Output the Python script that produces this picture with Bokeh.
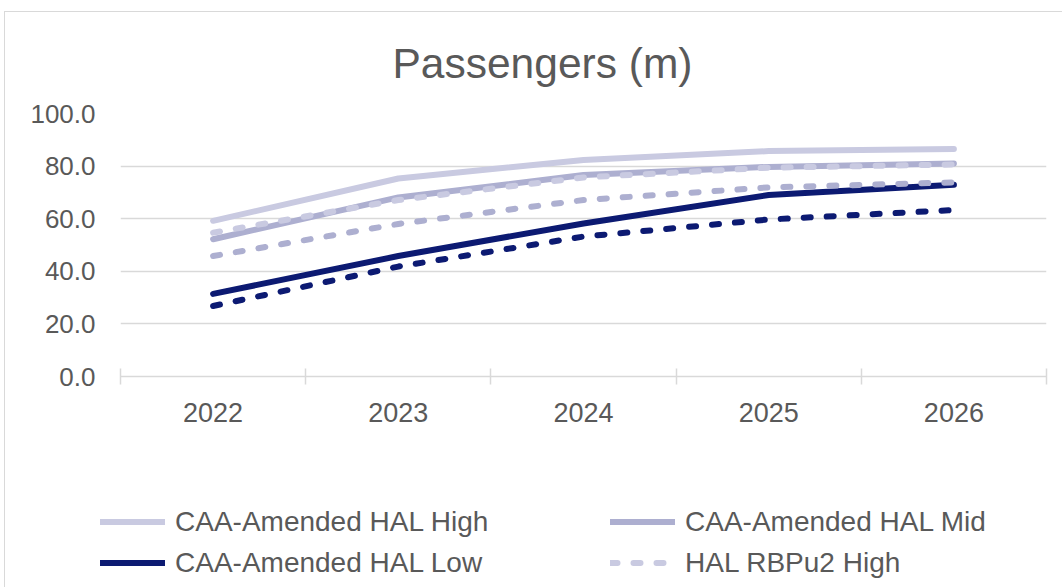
from bokeh.plotting import figure
from bokeh.layouts import column
from bokeh.models import (Range1d, FixedTicker, NumeralTickFormatter, Legend,
                          LegendItem)
from bokeh.embed import file_html
from bokeh.resources import INLINE

# ---- data ----
years = [2022, 2023, 2024, 2025, 2026]
y_ticks = [0, 20, 40, 60, 80, 100]
caa_high = [59.2, 75.3, 82.3, 85.7, 86.5]
caa_mid = [52.2, 68.1, 76.6, 79.7, 81.0]
caa_low = [31.4, 45.8, 58.2, 69.0, 72.9]
rbp_high = [54.7, 67.1, 75.7, 79.4, 80.6]
rbp_mid = [45.8, 58.0, 67.1, 71.9, 73.8]
rbp_low = [26.8, 41.8, 53.2, 59.7, 63.3]
names = ["CAA-Amended HAL High", "CAA-Amended HAL Mid", "CAA-Amended HAL Low",
         "HAL RBPu2 High", "HAL RBPu2 Mid", "HAL RBPu2 Low"]
values = [caa_high, caa_mid, caa_low, rbp_high, rbp_mid, rbp_low]

# ---- styles ----
colors = ["#C9CAE1", "#ADAFD0", "#0C1A72", "#C9CAE1", "#ADAFD0", "#0C1A72"]
dashes = ["solid", "solid", "solid", "7 16", "7 16", "7 16"]
FONT = "Liberation Sans"
TXT = "#595959"
GRID = "#D9D9D9"

p = figure(width=1058, height=428, output_backend="svg", toolbar_location=None,
           x_range=Range1d(years[0] - 0.5, years[-1] + 0.5),
           y_range=Range1d(y_ticks[0], y_ticks[-1]),
           min_border_left=115, min_border_right=17,
           min_border_top=101, min_border_bottom=64)
p.margin = (11, 0, 0, 4)
p.styles = {"border-left": "1px solid #D9D9D9", "border-top": "1px solid #D9D9D9"}
p.outline_line_color = None
p.background_fill_color = "white"
p.border_fill_color = "white"

p.title.text = "Passengers (m)"
p.title.text_font = FONT
p.title.text_font_size = "42.5px"
p.title.text_font_style = "normal"
p.title.text_color = TXT
p.title.align = "left"
p.title.vertical_align = "top"
p.title.offset = 272
p.title.standoff = 50

for vals, c, d in zip(values, colors, dashes):
    p.line(years, vals, line_width=6, line_color=c, line_dash=d,
           line_cap="round", line_join="round")

# axes
xa = p.xaxis[0]
xa.ticker = FixedTicker(ticks=years,
                        minor_ticks=[y - 0.5 for y in years] + [years[-1] + 0.5])
xa.axis_line_color = GRID
xa.axis_line_width = 1.5
xa.major_tick_in = 0
xa.major_tick_out = 0
xa.minor_tick_line_color = GRID
xa.minor_tick_line_width = 1.5
xa.minor_tick_in = 8
xa.minor_tick_out = 8
xa.major_label_text_font = FONT
xa.major_label_text_font_size = "27px"
xa.major_label_text_color = TXT
xa.major_label_standoff = 18

ya = p.yaxis[0]
ya.ticker = FixedTicker(ticks=y_ticks)
ya.formatter = NumeralTickFormatter(format="0.0")
ya.axis_line_color = None
ya.major_tick_line_color = None
ya.minor_tick_line_color = None
ya.major_label_text_font = FONT
ya.major_label_text_font_size = "26px"
ya.major_label_text_color = TXT
ya.major_label_standoff = 19

p.xgrid.grid_line_color = None
p.ygrid.grid_line_color = GRID
p.ygrid.grid_line_width = 1.5
p.ygrid.ticker = FixedTicker(ticks=y_ticks)

# ---- legend panel (the four entries visible in the reference) ----
p2 = figure(width=1058, height=148, output_backend="svg", toolbar_location=None,
            x_axis_type=None, y_axis_type=None,
            x_range=Range1d(0, 1), y_range=Range1d(0, 1),
            min_border_left=0, min_border_right=0,
            min_border_top=0, min_border_bottom=0)
p2.margin = (0, 0, 0, 4)
p2.styles = {"border-left": "1px solid #D9D9D9"}
p2.outline_line_color = None
p2.background_fill_color = "white"
p2.border_fill_color = "white"
p2.grid.visible = False
p2.frame_align = False

shown = [0, 2, 1, 3]
items = []
for i in shown:
    # series drawn here only to provide legend samples (outside this panel's ranges)
    r = p2.line(years, values[i], line_width=6, line_color=colors[i],
                line_dash=dashes[i], line_cap="round")
    items.append(LegendItem(label=names[i], renderers=[r]))

legend = Legend(items=items, location=(95, 4), orientation="vertical", nrows=2,
                glyph_width=65, glyph_height=41, label_standoff=10,
                label_width=435, spacing=0, padding=0, margin=0,
                label_text_font=FONT, label_text_font_size="28px",
                label_text_color=TXT, border_line_color=None,
                background_fill_alpha=0)
p2.add_layout(legend, "center")

layout = column(p, p2, spacing=0)
open("out.html", "w").write(file_html(layout, INLINE))
